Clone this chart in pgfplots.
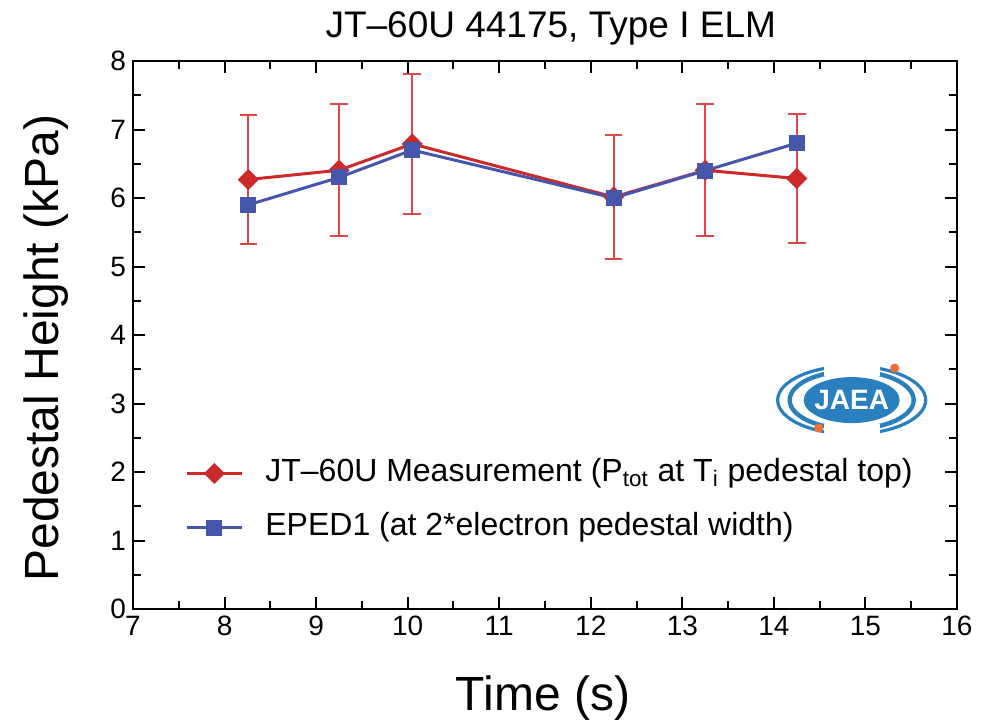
\documentclass[border=0pt]{standalone}
\usepackage{fontspec}
\setmainfont{Liberation Sans}
\usepackage{pgfplots}
\pgfplotsset{compat=1.18}
\usepackage{pgfplotstable}
\definecolor{mred}{HTML}{CC2A2A}
\definecolor{ered}{HTML}{E04848}
\definecolor{mblue}{HTML}{4656AA}
\definecolor{lblue}{HTML}{2A7FBF}
\definecolor{lorange}{HTML}{EE7038}

\pgfplotstableread{
x y ep em
8.26 6.27 0.94 0.94
9.25 6.405 0.965 0.965
10.05 6.79 1.02 1.02
12.25 6.015 0.905 0.905
13.25 6.405 0.965 0.965
14.25 6.285 0.945 0.945
}\meas
\pgfplotstableread{
x y
8.26 5.90
9.25 6.30
10.05 6.70
12.25 6.00
13.25 6.40
14.25 6.80
}\eped

\begin{document}
\begin{tikzpicture}
\useasboundingbox (-66.5pt,-55pt) rectangle (428pt,304.5pt);
\begin{axis}[
  at={(0,0)}, anchor=south west,
  scale only axis,
  width=412pt, height=274pt,
  xmin=7, xmax=16, ymin=0, ymax=8,
  xtick={7,...,16}, ytick={0,...,8},
  minor x tick num=1, minor y tick num=1,
  major tick length=6pt, minor tick length=4pt,
  axis line style={line width=1.3pt},
  every tick/.style={black, line width=1pt},
  tick label style={font=\fontsize{14}{16}\selectfont},
  /pgf/number format/assume math mode=true,
  title={JT–60U 44175, Type I ELM},
  every axis title shift=0pt,
  title style={at={(axis description cs:0.507,1.042)}, anchor=base, yshift=0pt, inner sep=0pt, font=\fontsize{18.5}{20}\selectfont},
  xlabel={Time (s)},
  xlabel style={at={(axis description cs:0.4976,-0.1843)}, anchor=base, inner sep=0pt, font=\fontsize{24}{26}\selectfont},
  ylabel={Pedestal Height (kPa)},
  ylabel style={at={(axis description cs:-0.091,0.476)}, anchor=base, inner sep=0pt, font=\fontsize{24}{26}\selectfont},
  legend cell align=left,
  legend style={at={(rel axis cs:0.0558,0.2845)}, anchor=north west, draw=none, fill=none,
    font=\fontsize{16}{18}\selectfont, column sep=11pt, row sep=11pt,
    nodes={inner sep=0pt, text height=12pt, text depth=4pt}},
  legend image code/.code={\draw[mark repeat=2,mark phase=2] plot coordinates {(0pt,0pt) (13.75pt,0pt) (27.5pt,0pt)};},
]
\addplot[mred, line width=1.5pt, mark=square*, mark size=3pt, mark options={rotate=45, solid},
  error bars/.cd, y dir=both, y explicit,
  error bar style={ered, line width=0.9pt},
  error mark options={ered, rotate=90, mark size=4.4pt, line width=0.9pt}]
  table[x=x, y=y, y error plus=ep, y error minus=em] {\meas};
\addlegendentry{JT–60U Measurement (P\textsubscript{tot} at T\textsubscript{i} pedestal top)}
\addplot[mblue, line width=1.5pt, mark=square*, mark size=3.25pt, mark options={solid}]
  table[x=x, y=y] {\eped};
\addlegendentry{EPED1 (at 2*electron pedestal width)}

% JAEA logo (decoration)
\begin{scope}[shift={(axis cs:14.85,3.05)}]
  \draw[lblue, line width=2.2pt] (0pt,0pt) ellipse (31pt and 14.5pt);
  \draw[lblue, line width=1.6pt] (0pt,0pt) ellipse (37pt and 17pt);
  \fill[white] (-14pt,-20pt) rectangle (14pt,-12pt);
  \fill[white] (-14pt,12pt) rectangle (14pt,20pt);
  \fill[lblue] (0pt,0pt) ellipse (24pt and 11.5pt);
  \node[white, font=\bfseries\fontsize{14}{14}\selectfont, inner sep=0pt] at (0pt,0pt) {JAEA};
  \fill[lorange] (21.5pt,16pt) circle (2.3pt);
  \fill[lorange] (-16.5pt,-14pt) circle (2.3pt);
\end{scope}
\end{axis}
\end{tikzpicture}
\end{document}
